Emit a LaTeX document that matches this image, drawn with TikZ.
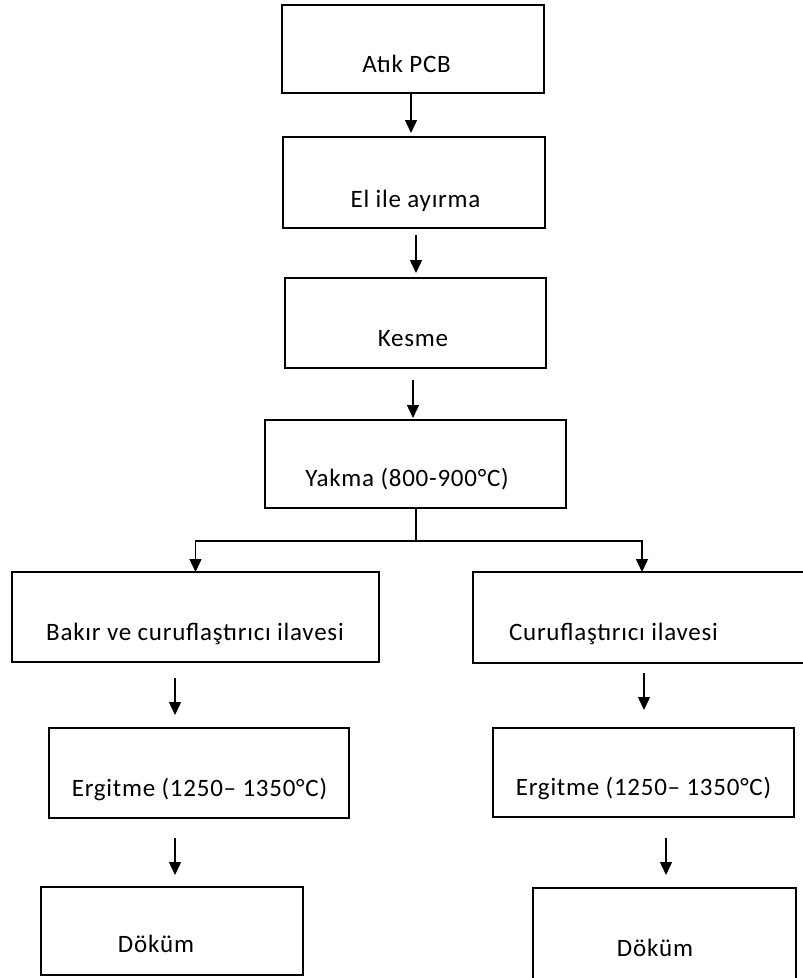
\documentclass[tikz,border=0pt]{standalone}
\usepackage{fontspec}
\setmainfont{Carlito}[LetterSpace=3]
\usetikzlibrary{arrows.meta,calc}
\begin{document}
\begin{tikzpicture}[x=1pt,y=-1pt,
  box/.style={draw,line width=1.5pt,rectangle,inner sep=0pt,outer sep=0pt},
  lbl/.style={anchor=base,inner sep=0pt,font=\fontsize{25}{30}\selectfont},
  arr/.style={line width=1.4pt,-{Triangle[length=13pt,width=12pt]}},
  link/.style={line width=1.4pt}]
\useasboundingbox (0,0) rectangle (803,978);

% process boxes
\node[box,minimum width=262pt,minimum height=88pt] (b1) at (413,49) {};
\node[box,minimum width=262pt,minimum height=91pt] (b2) at (414,182.5) {};
\node[box,minimum width=261pt,minimum height=90pt] (b3) at (415.5,323) {};
\node[box,minimum width=301pt,minimum height=88pt] (b4) at (415.5,464) {};
\node[box,minimum width=367pt,minimum height=90pt] (b5) at (195.5,617) {};
\node[box,minimum width=338pt,minimum height=91pt] (b6) at (642,617.5) {};
\node[box,minimum width=300pt,minimum height=90pt] (b7) at (199,773) {};
\node[box,minimum width=301pt,minimum height=89pt] (b9) at (643.5,772.5) {};
\node[box,minimum width=262pt,minimum height=88pt] (b8) at (172,931) {};
\node[box,minimum width=263pt,minimum height=102pt] (b10) at (664.5,939) {};

% box texts
\node[lbl] (t1) at (406.5,72) {Atık PCB};
\node[lbl] (t2) at (415.5,207) {El ile ayırma};
\node[lbl] (t3) at (413,346) {Kesme};
\node[lbl] (t4) at (407,486) {Yakma (800-900°C)};
\node[lbl] (t5) at (195,640) {Bakır ve curuflaştırıcı ilavesi};
\node[lbl] (t6) at (613.5,640) {Curuflaştırıcı ilavesi};
\node[lbl] (t7) at (199.5,796) {Ergitme (1250– 1350°C)};
\node[lbl] (t9) at (643.5,795) {Ergitme (1250– 1350°C)};
\node[lbl] (t8) at (156,952) {Döküm};
\node[lbl] (t10) at (655,956) {Döküm};

% main line
\draw[arr,shorten >=4pt] ([xshift=-2pt]b1.south) -- ([xshift=-2pt]b1.south |- b2.north);
\draw[arr,shorten <=7pt,shorten >=5pt] ([xshift=2pt]b2.south) -- ([xshift=2pt]b2.south |- b3.north);
\draw[arr,shorten <=12pt,shorten >=2pt] ([xshift=-2.5pt]b3.south) -- ([xshift=-2.5pt]b3.south |- b4.north);

% split into two routes
\coordinate (split) at (416,541);
\draw[link] (b4.south -| split) -- (split);
\draw[arr] (split) -| (b5.north);
\draw[arr] (split) -| (b6.north);

% left route
\draw[arr,shorten <=16pt,shorten >=13pt] ([xshift=-20.5pt]b5.south) -- ([xshift=-20.5pt]b5.south |- b7.north);
\draw[arr,shorten <=20pt,shorten >=12pt] ([xshift=-24pt]b7.south) -- ([xshift=-24pt]b7.south |- b8.north);

% right route
\draw[arr,shorten <=10pt,shorten >=18pt] ([xshift=2pt]b6.south) -- ([xshift=2pt]b6.south |- b9.north);
\draw[arr,shorten <=21pt,shorten >=13pt] ([xshift=22.5pt]b9.south) -- ([xshift=22.5pt]b9.south |- b10.north);
\end{tikzpicture}
\end{document}
